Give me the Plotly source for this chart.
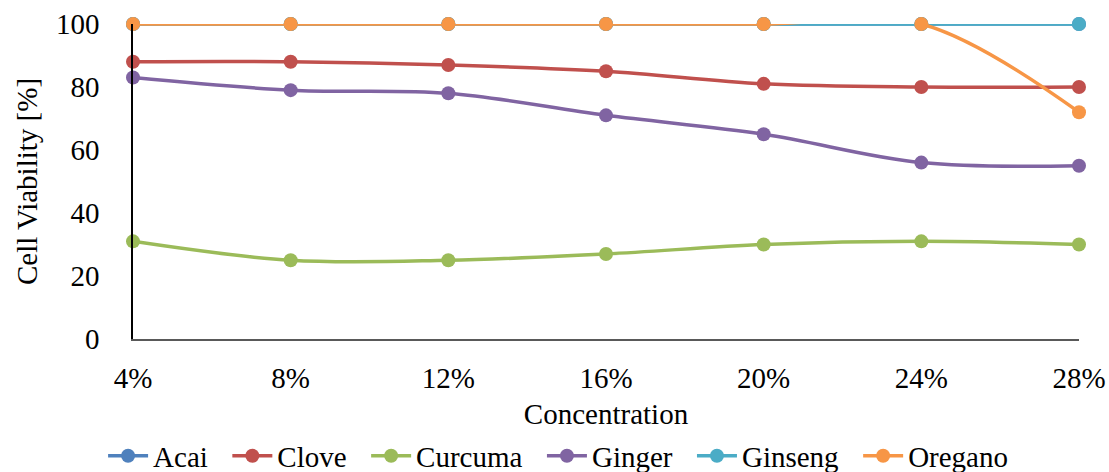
import plotly.graph_objects as go

# Concentration categories and cell viability (%) per extract
concentrations = ["4%", "8%", "12%", "16%", "20%", "24%", "28%"]
acai = [100, 100, 100, 100, 100, 100, 100]
clove = [88, 88, 87, 85, 81, 80, 80]
curcuma = [31, 25, 25, 27, 30, 31, 30]
ginger = [83, 79, 78, 71, 65, 56, 55]
ginseng = [100, 100, 100, 100, 100, 100, 100]
oregano = [100, 100, 100, 100, 100, 100, 72]

y_ticks = [0, 20, 40, 60, 80, 100]

series = [
    ("Acai", acai, "#4F81BD"),
    ("Clove", clove, "#C0504D"),
    ("Curcuma", curcuma, "#9BBB59"),
    ("Ginger", ginger, "#8064A2"),
    ("Ginseng", ginseng, "#4BACC6"),
    ("Oregano", oregano, "#F79646"),
]

font_family = "Liberation Serif, Times New Roman, serif"
fs = 29
pad = "\u00a0" * 2  # extra room after each legend entry

fig = go.Figure()
for name, values, color in series:
    fig.add_trace(go.Scatter(
        x=concentrations,
        y=values,
        name=name + pad,
        mode="lines+markers",
        line=dict(color=color, width=3.5, shape="spline", smoothing=1),
        marker=dict(color=color, size=14),
        cliponaxis=False,
    ))

fig.update_layout(
    width=1109,
    height=472,
    margin=dict(l=133, r=30, t=24, b=133),
    paper_bgcolor="white",
    plot_bgcolor="white",
    font=dict(family=font_family, size=fs, color="black"),
    showlegend=True,
    legend=dict(
        orientation="h",
        xref="container",
        yref="container",
        x=0.51,
        xanchor="center",
        y=0.034,
        yanchor="middle",
        font=dict(family=font_family, size=fs),
        itemwidth=40,
        tracegroupgap=0,
    ),
    xaxis=dict(
        type="category",
        range=[0, 6],
        showline=True,
        linecolor="#595959",
        linewidth=1.5,
        showgrid=False,
        zeroline=False,
        ticks="",
        ticklabelstandoff=12,
        automargin=False,
        tickfont=dict(family=font_family, size=fs),
        title=dict(text="Concentration", font=dict(family=font_family, size=fs), standoff=16),
    ),
    yaxis=dict(
        range=[0, 100],
        tickvals=y_ticks,
        showline=True,
        linecolor="black",
        linewidth=1.5,
        showgrid=False,
        zeroline=False,
        ticks="",
        ticklabelstandoff=26,
        automargin=False,
        tickfont=dict(family=font_family, size=fs),
        title=dict(text="Cell Viability [%]", font=dict(family=font_family, size=fs), standoff=10),
    ),
)

fig.write_html("out.html")
